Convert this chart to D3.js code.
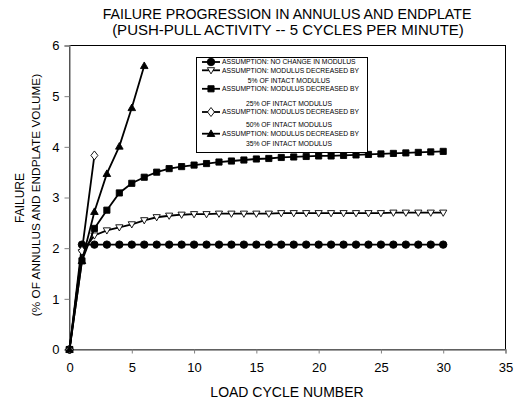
<!DOCTYPE html>
<html><head><meta charset="utf-8">
<script src="https://cdn.jsdelivr.net/npm/d3@7"></script>
<style>body{margin:0;background:#fff}svg{display:block;font-family:Arial,"Liberation Sans",sans-serif}</style>
</head><body><svg id="c" width="516" height="400"></svg>
<script>
const xTicks = [0,5,10,15,20,25,30,35];
const yTicks = [0,1,2,3,4,5,6];
const cyclesLong = d3.range(0,31);
const noChange = [0,2.07,2.07,2.07,2.07,2.07,2.07,2.07,2.07,2.07,2.07,2.07,2.07,2.07,2.07,2.07,2.07,2.07,2.07,2.07,2.07,2.07,2.07,2.07,2.07,2.07,2.07,2.07,2.07,2.07,2.07];
const mod5 = [0,1.92,2.25,2.35,2.41,2.47,2.55,2.61,2.64,2.66,2.67,2.67,2.68,2.68,2.68,2.68,2.68,2.69,2.69,2.69,2.69,2.69,2.69,2.69,2.69,2.69,2.70,2.70,2.70,2.70,2.70];
const mod25 = [0,1.75,2.39,2.75,3.09,3.28,3.40,3.50,3.57,3.61,3.64,3.67,3.70,3.72,3.74,3.76,3.77,3.79,3.80,3.81,3.82,3.82,3.83,3.84,3.85,3.86,3.87,3.88,3.89,3.90,3.91];
const cyclesMod50 = [0,1,2];
const mod50 = [0,1.95,3.83];
const cyclesMod35 = [0,1,2,3,4,5,6];
const mod35 = [0,1.75,2.72,3.47,4.01,4.77,5.60];
const titleLines = ["FAILURE PROGRESSION IN ANNULUS AND ENDPLATE","(PUSH-PULL ACTIVITY -- 5 CYCLES PER MINUTE)"];
const yTitleLines = ["FAILURE","(% OF ANNULUS AND ENDPLATE VOLUME)"];
const xTitle = "LOAD CYCLE NUMBER";

const series = [
  {name:["ASSUMPTION: NO CHANGE IN MODULUS"], x:cyclesLong, y:noChange, sym:"circle", fill:"#000"},
  {name:["ASSUMPTION: MODULUS DECREASED BY","5% OF INTACT MODULUS"], x:cyclesLong, y:mod5, sym:"tridown", fill:"#fff"},
  {name:["ASSUMPTION: MODULUS DECREASED BY","25% OF INTACT MODULUS"], x:cyclesLong, y:mod25, sym:"square", fill:"#000"},
  {name:["ASSUMPTION: MODULUS DECREASED BY","50% OF INTACT MODULUS"], x:cyclesMod50, y:mod50, sym:"diamond", fill:"#fff"},
  {name:["ASSUMPTION: MODULUS DECREASED BY","35% OF INTACT MODULUS"], x:cyclesMod35, y:mod35, sym:"triup", fill:"#000"}
];

const svg = d3.select("#c");
const L=69.5, R=505.5, T=45.5, B=349.5;
const x = d3.scaleLinear().domain([0,35]).range([L,R]);
const y = d3.scaleLinear().domain([0,6]).range([B,T]);

svg.append("rect").attr("x",L).attr("y",T).attr("width",R-L).attr("height",B-T)
  .attr("fill","none").attr("stroke","#000").attr("stroke-width",1);

const xa = svg.append("g").attr("transform",`translate(0,${B})`)
  .call(d3.axisBottom(x).tickValues(xTicks).tickSize(4).tickPadding(9).tickFormat(d3.format("d")));
const ya = svg.append("g").attr("transform",`translate(${L},0)`)
  .call(d3.axisLeft(y).tickValues(yTicks).tickSize(5).tickPadding(5).tickFormat(d3.format("d")));
[xa,ya].forEach(a=>{
  a.select(".domain").attr("stroke","#808080").attr("stroke-width",1.3);
  a.selectAll(".tick line").attr("stroke","#808080");
  a.selectAll("text").attr("font-size",13).attr("font-family","Arial, 'Liberation Sans', sans-serif").attr("fill","#000");
});

function symPath(sym){
  switch(sym){
    case "circle": return d3.symbol(d3.symbolCircle, 44)();
    case "square": return d3.symbol(d3.symbolSquare, 38)();
    case "diamond": return "M0,-4.5L3.5,0L0,4.5L-3.5,0Z";
    case "tridown": return "M-3.6,-2.6L3.6,-2.6L0,3.6Z";
    case "triup": return "M-3.8,2.8L3.8,2.8L0,-3.8Z";
  }
}

const line = d3.line();
series.forEach(s=>{
  const pts = s.x.map((v,i)=>[x(v), y(s.y[i])]);
  svg.append("path").attr("d", line(pts)).attr("fill","none").attr("stroke","#000").attr("stroke-width",1.8);
  svg.append("g").selectAll("path").data(pts).join("path")
    .attr("transform",d=>`translate(${d[0]},${d[1]})`)
    .attr("d", symPath(s.sym))
    .attr("fill", s.fill).attr("stroke","#000").attr("stroke-width",0.9);
});

const lg = svg.append("g");
lg.append("rect").attr("x",196.5).attr("y",57.5).attr("width",171).attr("height",95)
  .attr("fill","#fff").attr("stroke","#000").attr("stroke-width",1);
const rowY = [[62],[70.3,81],[88.8,104],[112,124.5],[133.7,143.8]];
series.forEach((s,i)=>{
  const ry = rowY[i][0];
  lg.append("line").attr("x1",202).attr("x2",220).attr("y1",ry).attr("y2",ry).attr("stroke","#000").attr("stroke-width",1.8);
  lg.append("path").attr("transform",`translate(211,${ry})`).attr("d",symPath(s.sym)).attr("fill",s.fill).attr("stroke","#000").attr("stroke-width",0.9);
  lg.append("text").attr("x",222).attr("y",ry).attr("dy","0.35em").attr("font-size",6.75).text(s.name[0]);
  if(s.name[1]) lg.append("text").attr("x",289).attr("y",rowY[i][1]).attr("dy","0.35em").attr("text-anchor","middle").attr("font-size",6.75).text(s.name[1]);
});

svg.append("text").attr("x",287).attr("y",19).attr("text-anchor","middle").attr("font-size",14.2).text(titleLines[0]);
svg.append("text").attr("x",288).attr("y",34.5).attr("text-anchor","middle").attr("font-size",15).text(titleLines[1]);
svg.append("text").attr("transform","translate(24,198) rotate(-90)").attr("text-anchor","middle").attr("font-size",12).text(yTitleLines[0]);
svg.append("text").attr("transform","translate(40,195) rotate(-90)").attr("text-anchor","middle").attr("font-size",11.8).text(yTitleLines[1]);
svg.append("text").attr("x",287).attr("y",397).attr("text-anchor","middle").attr("font-size",14).text(xTitle);
</script></body></html>
